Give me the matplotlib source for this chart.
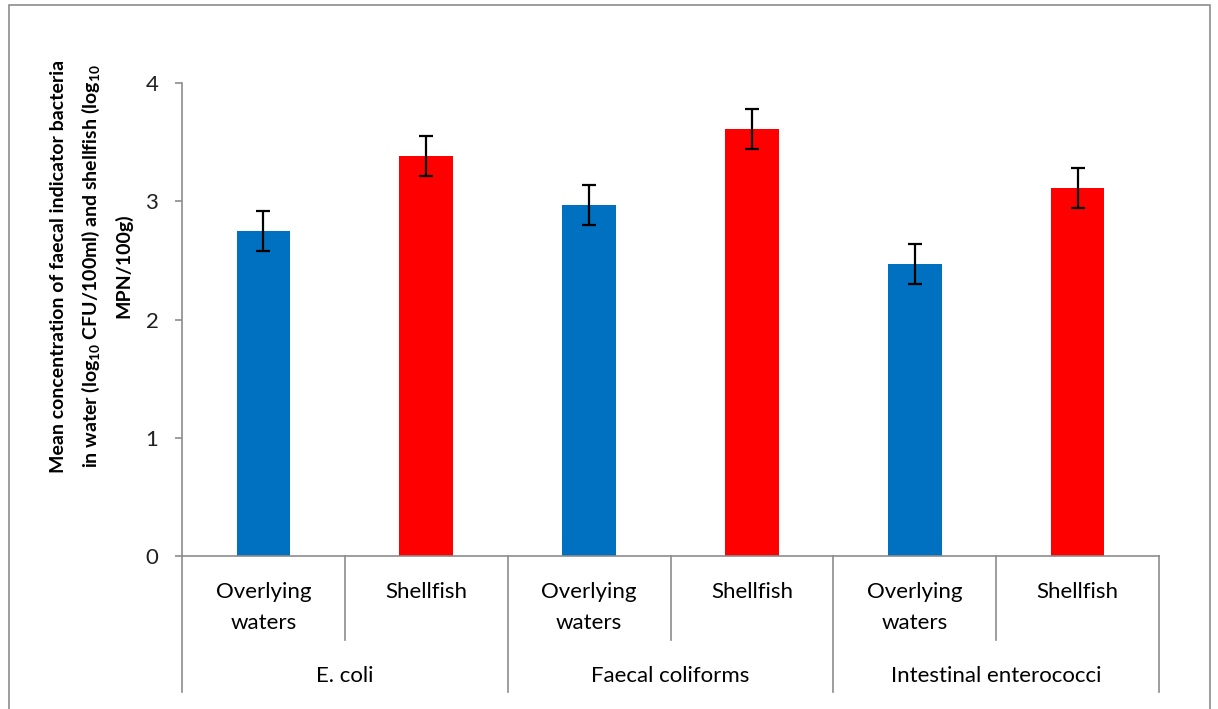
import matplotlib
matplotlib.use("Agg")
import matplotlib.pyplot as plt
from matplotlib.patches import Rectangle
from matplotlib.lines import Line2D

# Mean log10 concentrations and their error bars
groups = ["E. coli", "Faecal coliforms", "Intestinal enterococci"]
sample_types = ["Overlying\nwaters", "Shellfish"]
means = [2.75, 3.38, 2.97, 3.61, 2.47, 3.11]
errors = [0.17, 0.17, 0.17, 0.17, 0.17, 0.17]
bar_colors = ["#0070C0", "#FF0000", "#0070C0", "#FF0000", "#0070C0", "#FF0000"]
y_ticks = [0, 1, 2, 3, 4]

plt.rcParams["font.family"] = ["Lato", "DejaVu Sans"]
plt.rcParams["mathtext.fontset"] = "custom"
plt.rcParams["mathtext.rm"] = "Lato"
plt.rcParams["mathtext.bf"] = "Lato:bold"

W, H = 1218, 709
fig = plt.figure(figsize=(W / 100, H / 100), dpi=100)

# chart outer frame
fig.patches.append(Rectangle((9 / W, -0.05), (1210 - 9) / W, 1 - 5 / H + 0.05,
                             transform=fig.transFigure, fill=False,
                             edgecolor="#8c8c8c", linewidth=1.2))

left, right, top, bottom = 182, 1159, 83, 556
ax = fig.add_axes([left / W, (H - bottom) / H, (right - left) / W, (bottom - top) / H])

axis_col = "#8c8c8c"
x = list(range(len(means)))
ax.bar(x, means, width=0.33, color=bar_colors, zorder=2)
ax.errorbar(x, means, yerr=errors, fmt="none", ecolor="black",
            elinewidth=1.6, capsize=5, capthick=1.6, zorder=3)

ax.set_xlim(-0.5, len(means) - 0.5)
ax.set_ylim(0, 4)
ax.set_yticks(y_ticks)
ax.set_yticklabels([str(t) for t in y_ticks], fontsize=16, color="#202020")
ax.set_xticks([])
ax.tick_params(axis="y", direction="out", length=5, width=1.2, color=axis_col, pad=12)
for s in ["top", "right"]:
    ax.spines[s].set_visible(False)
for s in ["left", "bottom"]:
    ax.spines[s].set_color(axis_col)
    ax.spines[s].set_linewidth(1.2)

plot_h = bottom - top

def yfrac(py):
    return (bottom - py) / plot_h

tr = ax.get_xaxis_transform()
# vertical separators of the two-level category axis
for i in range(len(means) + 1):
    xb = i - 0.5
    end = 692 if i % 2 == 0 else 640
    ax.add_line(Line2D([xb, xb], [0, yfrac(end)], transform=tr, color=axis_col,
                       linewidth=1.2, clip_on=False))

for i in range(len(means)):
    ax.text(i, yfrac(582), sample_types[i % 2], transform=tr, ha="center", va="top",
            fontsize=16, linespacing=1.68, color="black")

for g, name in enumerate(groups):
    ax.text(2 * g + 0.5, yfrac(676), name, transform=tr, ha="center", va="center",
            fontsize=16, color="black")

ylabel_lines = [
    "Mean concentration of faecal indicator bacteria",
    r"in water (log$_{\mathbf{10}}$ CFU/100ml) and shellfish (log$_{\mathbf{10}}$",
    "MPN/100g)",
]
for k, line in enumerate(ylabel_lines):
    fig.text((59 + 32 * k) / W, (H - 266) / H, line, rotation=90, ha="center",
             va="center", fontsize=14, fontweight="bold", color="black")

fig.savefig("out.png", dpi=100)
